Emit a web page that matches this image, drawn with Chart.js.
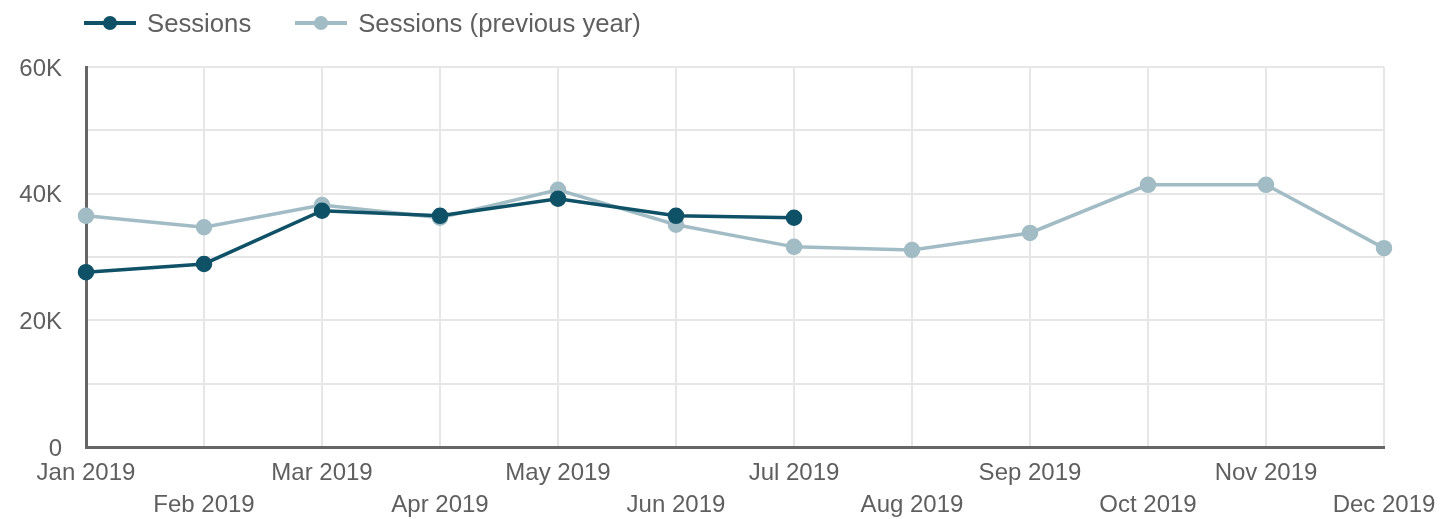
<!DOCTYPE html>
<html>
<head>
<meta charset="utf-8">
<script src="https://cdn.jsdelivr.net/npm/chart.js@4.4.1/dist/chart.umd.min.js"></script>
<style>
    html, body { margin: 0; padding: 0; background: #fff; }
    #wrap { position: relative; width: 1450px; height: 519px; }
    #legend {
        position: absolute; left: 84px; top: 6px; height: 34px;
        display: flex; align-items: center;
        font-family: 'Liberation Sans', Arial, sans-serif; font-size: 25.7px; color: #5f5f5f;
    }
    .item { display: flex; align-items: center; margin-right: 44px; }
    .marker { position: relative; width: 52px; height: 14px; margin-right: 11px; }
    .marker .ln { position: absolute; left: 0; top: 5px; width: 52px; height: 4px; }
    .marker .dot { position: absolute; left: 19px; top: 0; width: 14px; height: 14px; border-radius: 50%; }
</style>
</head>
<body>
<div id="wrap">
    <div id="legend"></div>
    <canvas id="chart" width="1450" height="519"></canvas>
</div>
<script>
const months = ['Jan 2019', 'Feb 2019', 'Mar 2019', 'Apr 2019', 'May 2019', 'Jun 2019',
    'Jul 2019', 'Aug 2019', 'Sep 2019', 'Oct 2019', 'Nov 2019', 'Dec 2019'];
const sessions = [27600, 28900, 37300, 36500, 39200, 36500, 36200];
const sessionsPrev = [36500, 34700, 38200, 36200, 40600, 35100, 31600, 31100, 33800, 41400, 41400, 31400];
const yTicks = [0, 20000, 40000, 60000];

const darkColor = '#0f5166';
const lightColor = '#a2bcc5';
const textColor = '#5f5f5f';

// alternate labels onto two rows
const labels = months.map((m, i) => i % 2 === 0 ? [m, ''] : ['', m]);

const chart = new Chart(document.getElementById('chart'), {
    type: 'line',
    data: {
        labels: labels,
        datasets: [
            {
                label: 'Sessions',
                data: sessions,
                borderColor: darkColor,
                backgroundColor: darkColor,
                borderWidth: 3.5,
                pointRadius: 6.5,
                pointHoverRadius: 6.5,
                tension: 0
            },
            {
                label: 'Sessions (previous year)',
                data: sessionsPrev,
                borderColor: lightColor,
                backgroundColor: lightColor,
                borderWidth: 3.5,
                pointRadius: 6.5,
                pointHoverRadius: 6.5,
                tension: 0
            }
        ]
    },
    options: {
        responsive: false,
        animation: false,
        layout: { padding: { left: 0, right: 66, top: 67, bottom: 0 } },
        plugins: {
            tooltip: { enabled: false },
            legend: { display: false }
        },
        scales: {
            x: {
                offset: false,
                grid: { color: '#e6e6e6', lineWidth: 2, drawTicks: false },
                border: { color: '#666', width: 3 },
                ticks: {
                    color: textColor,
                    font: { family: 'Liberation Sans, Arial', size: 24, lineHeight: 1.33 },
                    autoSkip: false,
                    maxRotation: 0,
                    minRotation: 0,
                    padding: 10
                },
                afterFit: axis => { axis.height = 72; }
            },
            y: {
                min: 0,
                max: 60000,
                grid: { color: '#e6e6e6', lineWidth: 2, drawTicks: false },
                border: { color: '#666', width: 3 },
                ticks: {
                    stepSize: 10000,
                    color: textColor,
                    font: { family: 'Liberation Sans, Arial', size: 24 },
                    padding: 24,
                    labelOffset: 2,
                    callback: v => yTicks.includes(v) ? (v === 0 ? '0' : (v / 1000) + 'K') : ''
                },
                afterFit: axis => { axis.width = 86; }
            }
        }
    }
});

// html legend built from the datasets
const legendEl = document.getElementById('legend');
chart.data.datasets.forEach(ds => {
    const item = document.createElement('div');
    item.className = 'item';
    item.innerHTML = `<span class="marker"><span class="ln" style="background:${ds.borderColor}"></span>` +
        `<span class="dot" style="background:${ds.borderColor}"></span></span><span>${ds.label}</span>`;
    legendEl.appendChild(item);
});
</script>
</body>
</html>
